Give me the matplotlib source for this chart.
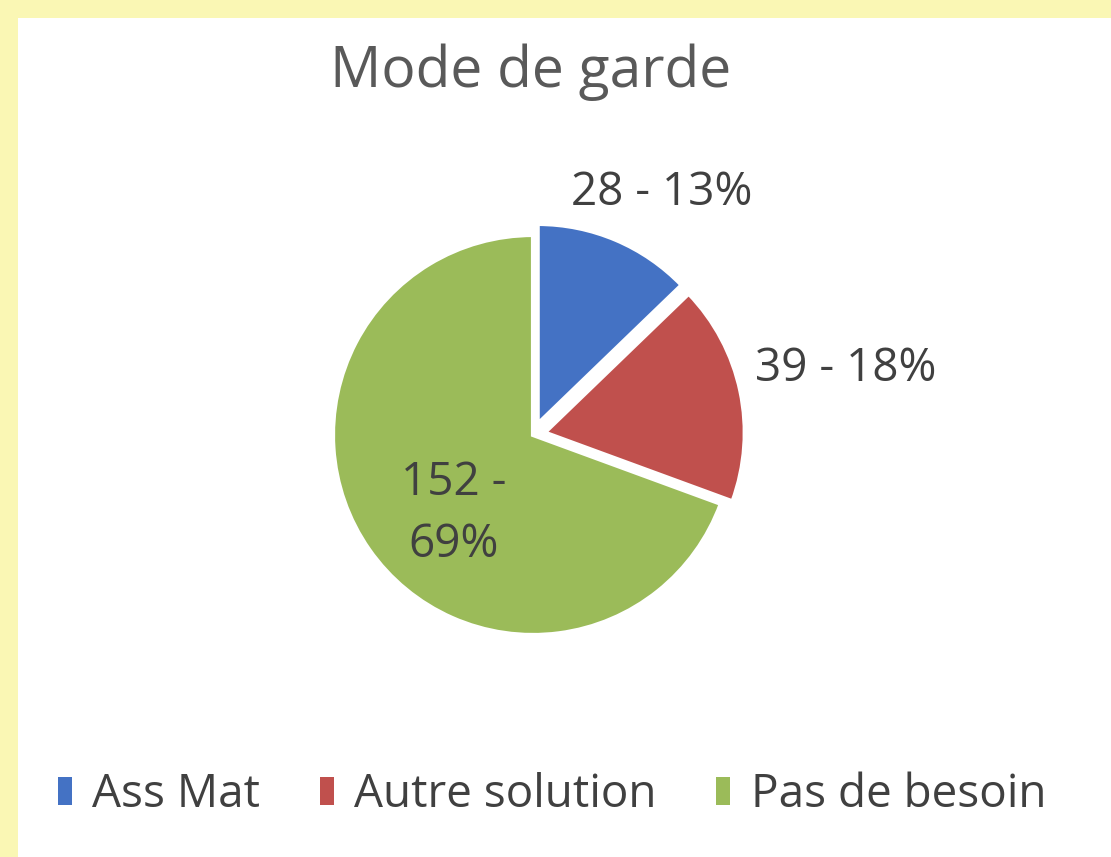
import matplotlib.pyplot as plt
from matplotlib.patches import Rectangle
import numpy as np

categories = ["Ass Mat", "Autre solution", "Pas de besoin"]
values = [28, 39, 152]
colors = ["#4472C4", "#C0504D", "#9BBB59"]
title = "Mode de garde"

plt.rcParams['font.family'] = ['Open Sans', 'DejaVu Sans']

fig = plt.figure(figsize=(11.11, 8.57), dpi=100)
fig.patch.set_facecolor("#FAF7B4")
fig.patches.append(Rectangle((18 / 1111, 0), 1, 1 - 18 / 857, transform=fig.transFigure,
                             facecolor="white", edgecolor="none", zorder=-1))

ax = fig.add_axes([0, 0, 1, 1])
ax.set_facecolor("none")

# pie drawn in pixel-like data units
cx, cy, r = 533, 857 - 435, 200
wedges, _ = ax.pie(values, colors=colors, startangle=90, counterclock=False,
                   center=(cx, cy), radius=r, explode=[0.06 * r, 0.06 * r, 0],
                   wedgeprops=dict(edgecolor="white", linewidth=3))
ax.set_xlim(0, 1111)
ax.set_ylim(0, 857)
ax.set_aspect("auto")
ax.axis("off")

total = sum(values)
label_dist = [1.37, 1.6, 0.56]
label_shift = [-5, 0, 10]
for w, v, d, s in zip(wedges, values, label_dist, label_shift):
    pct = round(100 * v / total)
    txt = f"{v} - {pct}%" if v < 100 else f"{v} -\n{pct}%"
    ang = np.deg2rad((w.theta1 + w.theta2) / 2 + s)
    ax.text(cx + d * r * np.cos(ang), cy + d * r * np.sin(ang), txt,
            ha="center", va="center", fontsize=33, color="#404040", linespacing=1.45)

fig.text(0.478, 1 - 72 / 857, title, ha="center", va="center", fontsize=41, color="#595959")

leg = fig.legend(wedges, categories, loc="center", bbox_to_anchor=(0.497, 1 - 795 / 857),
                 ncol=3, frameon=False, fontsize=33, handlelength=0.3, handleheight=0.55,
                 handletextpad=0.45, columnspacing=1.3, labelcolor="#404040")
for h in leg.legend_handles:
    h.set_edgecolor("none")

fig.savefig("out.png", dpi=100, facecolor=fig.get_facecolor())
